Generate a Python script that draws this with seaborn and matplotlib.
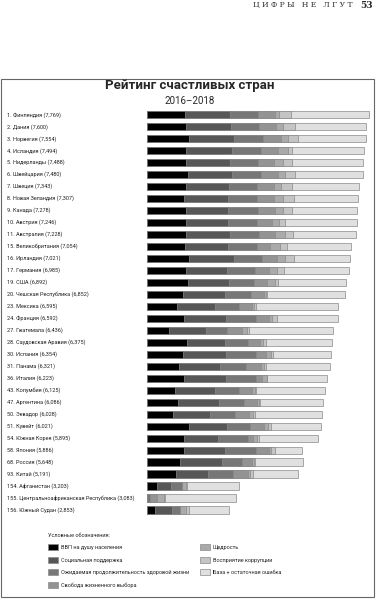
import matplotlib
matplotlib.use("Agg")
import matplotlib.pyplot as plt
from matplotlib.patches import Patch, Rectangle
from matplotlib.transforms import blended_transform_factory
import seaborn as sns
import pandas as pd

ranks = [1, 2, 3, 4, 5, 6, 7, 8, 9, 10, 11, 15, 16, 17, 19, 20, 23, 24, 27, 28,
         30, 31, 36, 43, 47, 50, 51, 54, 58, 68, 93, 154, 155, 156]
countries = ["Финляндия", "Дания", "Норвегия", "Исландия", "Нидерланды", "Швейцария",
             "Швеция", "Новая Зеландия", "Канада", "Австрия", "Австралия",
             "Великобритания", "Ирландия", "Германия", "США", "Чешская Республика",
             "Мексика", "Франция", "Гватемала", "Саудовская Аравия", "Испания", "Панама",
             "Италия", "Колумбия", "Аргентина", "Эквадор", "Кувейт", "Южная Корея",
             "Япония", "Россия", "Китай", "Афганистан",
             "Центральноафриканская Республика", "Южный Судан"]
scores = ["7,769", "7,600", "7,554", "7,494", "7,488", "7,480", "7,343", "7,307", "7,278",
          "7,246", "7,228", "7,054", "7,021", "6,985", "6,892", "6,852", "6,595", "6,592",
          "6,436", "6,375", "6,354", "6,321", "6,223", "6,125", "6,086", "6,028", "6,021",
          "5,895", "5,886", "5,648", "5,191", "3,203", "3,083", "2,853"]

gdp = [1.340, 1.383, 1.488, 1.380, 1.396, 1.452, 1.387, 1.303, 1.365, 1.376, 1.372,
       1.333, 1.499, 1.373, 1.433, 1.269, 1.070, 1.324, 0.800, 1.403, 1.286, 1.149,
       1.294, 0.985, 1.092, 0.912, 1.500, 1.301, 1.327, 1.183, 1.029, 0.350, 0.026, 0.306]
social = [1.587, 1.573, 1.582, 1.624, 1.522, 1.526, 1.487, 1.557, 1.505, 1.475, 1.548,
          1.538, 1.553, 1.454, 1.457, 1.487, 1.323, 1.472, 1.269, 1.357, 1.484, 1.442,
          1.488, 1.410, 1.432, 1.312, 1.319, 1.219, 1.419, 1.452, 1.125, 0.517, 0.000, 0.575]
health = [0.986, 0.996, 1.028, 1.026, 0.999, 1.052, 1.009, 1.026, 1.039, 1.016, 1.036,
          0.996, 0.999, 0.987, 0.874, 0.920, 0.861, 1.045, 0.746, 0.795, 1.062, 0.910,
          1.039, 0.841, 0.881, 0.868, 0.808, 1.036, 1.088, 0.726, 0.893, 0.361, 0.105, 0.295]
freedom = [0.596, 0.592, 0.603, 0.591, 0.557, 0.572, 0.574, 0.585, 0.584, 0.532, 0.557,
           0.450, 0.516, 0.495, 0.454, 0.457, 0.433, 0.436, 0.535, 0.439, 0.362, 0.516,
           0.231, 0.470, 0.471, 0.498, 0.493, 0.159, 0.445, 0.334, 0.521, 0.000, 0.225, 0.010]
generosity = [0.153, 0.252, 0.271, 0.354, 0.322, 0.263, 0.267, 0.330, 0.285, 0.244, 0.332,
              0.348, 0.298, 0.261, 0.280, 0.046, 0.074, 0.111, 0.175, 0.080, 0.153, 0.109,
              0.158, 0.099, 0.066, 0.126, 0.142, 0.175, 0.069, 0.082, 0.058, 0.158, 0.235, 0.202]
corruption = [0.393, 0.410, 0.341, 0.118, 0.298, 0.343, 0.373, 0.380, 0.308, 0.226, 0.290,
              0.278, 0.310, 0.265, 0.128, 0.036, 0.073, 0.183, 0.078, 0.132, 0.079, 0.054,
              0.030, 0.034, 0.050, 0.087, 0.097, 0.056, 0.140, 0.031, 0.100, 0.025, 0.035, 0.091]
dystopia = [2.74, 2.51, 2.37, 2.53, 2.50, 2.38, 2.36, 2.24, 2.31, 2.50, 2.21,
            2.22, 1.96, 2.27, 2.37, 2.76, 2.87, 2.13, 2.95, 2.29, 2.03, 2.24,
            2.09, 2.41, 2.20, 2.34, 1.76, 2.06, 0.98, 1.67, 1.57, 1.84, 2.51, 1.42]

segments = ["ВВП на душу населения", "Социальная поддержка",
            "Ожидаемая продолжительность здоровой жизни", "Свобода жизненного выбора",
            "Щедрость", "Восприятие коррупции", "База + остаточная ошибка"]
colors = ["#000000", "#575757", "#777777", "#939393", "#aaaaaa", "#c4c4c4", "#e0e0e0"]

sns.set_style("white")
plt.rcParams['font.family'] = ['Roboto', 'DejaVu Sans']
small = 4.0

labels = [f"{r}. {c} ({s})" for r, c, s in zip(ranks, countries, scores)]
df = pd.DataFrame({"label": labels})
for seg, vals in zip(segments, [gdp, social, health, freedom, generosity, corruption, dystopia]):
    df[seg] = vals
cum = df[segments].cumsum(axis=1)

fig = plt.figure(figsize=(3.76, 6.0), dpi=100)
ax = fig.add_axes([146.7 / 376, 84 / 600, 225 / 376, 407.3 / 600])

# stacked bars: draw cumulative totals from the longest to the shortest
for seg, col in reversed(list(zip(segments, colors))):
    sns.barplot(x=cum[seg], y=df["label"], color=col, orient="h", width=0.6,
                saturation=1, errorbar=None, edgecolor="#8a8a8a", linewidth=0.5, ax=ax)

ax.set_xlim(0, 7.9)
ax.set_ylim(len(labels) - 0.5, -0.5)
ax.axis("off")

trans = blended_transform_factory(fig.transFigure, ax.transData)
for i, lab in enumerate(labels):
    ax.text(7.3 / 376, i, lab, transform=trans, ha="left", va="center",
            fontsize=small, color="#222222")

fig.text(0.505, 1 - 86 / 600, "Рейтинг счастливых стран", ha="center", va="center",
         fontsize=9.5, fontweight="bold")
fig.text(0.505, 1 - 101 / 600, "2016–2018", ha="center", va="center", fontsize=7)

fig.text(353 / 376, 1 - 5 / 600, "Ц И Ф Р Ы   Н Е   Л Г У Т", ha="right", va="center",
         family=["DejaVu Serif"], fontsize=5.5, color="#333333")
fig.text(373 / 376, 1 - 5 / 600, "53", ha="right", va="center",
         family=["DejaVu Serif"], fontsize=6.5, fontweight="bold")

fig.add_artist(Rectangle((1.5 / 376, 3 / 600), 372 / 376, 518 / 600,
                         transform=fig.transFigure, fill=False,
                         edgecolor="#666666", linewidth=0.8))

handles = [Patch(facecolor=c, edgecolor="#8a8a8a", linewidth=0.5, label=s)
           for s, c in zip(segments, colors)]
fig.legend(handles=handles, loc="upper left", bbox_to_anchor=(48 / 376, 1 - 533 / 600),
           ncol=2, frameon=False, title="Условные обозначения:", title_fontsize=small,
           fontsize=small, alignment="left", handlelength=1.85, handleheight=1.3,
           handletextpad=0.55, labelspacing=1.15, columnspacing=1.8,
           borderpad=0, borderaxespad=0)

fig.savefig("out.png", dpi=100)
